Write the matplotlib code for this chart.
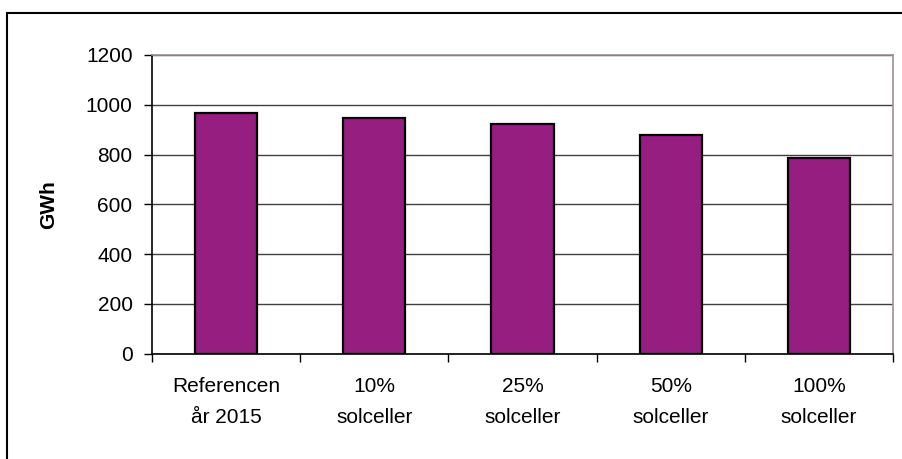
import matplotlib
matplotlib.use("Agg")
import matplotlib.pyplot as plt
from matplotlib.patches import Rectangle

categories = ["Referencen\når 2015", "10%\nsolceller", "25%\nsolceller", "50%\nsolceller", "100%\nsolceller"]
values = [965, 948, 922, 880, 785]
yticks = [0, 200, 400, 600, 800, 1000, 1200]

plt.rcParams['font.family'] = ['Liberation Sans', 'DejaVu Sans']

W, H = 903, 459
fig = plt.figure(figsize=(W / 100, H / 100), dpi=100)
ax = fig.add_axes([152 / W, 1 - 353.7 / H, (893 - 152) / W, (353.7 - 55) / H])

x = list(range(len(categories)))
ax.bar(x, values, width=0.42, color='#961E80', edgecolor='black', linewidth=1.6, zorder=3)

ax.set_xlim(-0.5, len(categories) - 0.5)
ax.set_ylim(0, 1200)
ax.set_yticks(yticks)
ax.set_yticklabels([str(v) for v in yticks], fontsize=15)
ax.yaxis.grid(True, color='#404040', linewidth=1.0, zorder=0)
ax.set_axisbelow(True)

ax.set_xticks(x)
ax.set_xticklabels(categories, fontsize=15, linespacing=1.75)
ax.tick_params(axis='x', length=0, pad=17)
ax.set_xticks([i - 0.5 for i in range(len(categories) + 1)], minor=True)
ax.tick_params(axis='x', which='minor', length=6, width=1, color='black', direction='out')
ax.tick_params(axis='y', length=6, width=1, color='black', direction='out', pad=8)

ax.spines['left'].set_color('black')
ax.spines['bottom'].set_color('black')
ax.spines['top'].set_color('#9A9094')
ax.spines['right'].set_color('#9A9094')
for s in ax.spines.values():
    s.set_linewidth(1.2)

ax.set_ylabel('GWh', fontsize=15, fontweight='bold')
ax.yaxis.set_label_coords((58 - 152) / (893 - 152), 0.5)

# outer chart border (right and bottom edges fall outside the image)
fig.add_artist(Rectangle((7 / W, -0.1), 1.2, (1 - 13 / H) + 0.1, transform=fig.transFigure,
                         fill=False, edgecolor='black', linewidth=1.5))

fig.savefig('out.png', dpi=100)
